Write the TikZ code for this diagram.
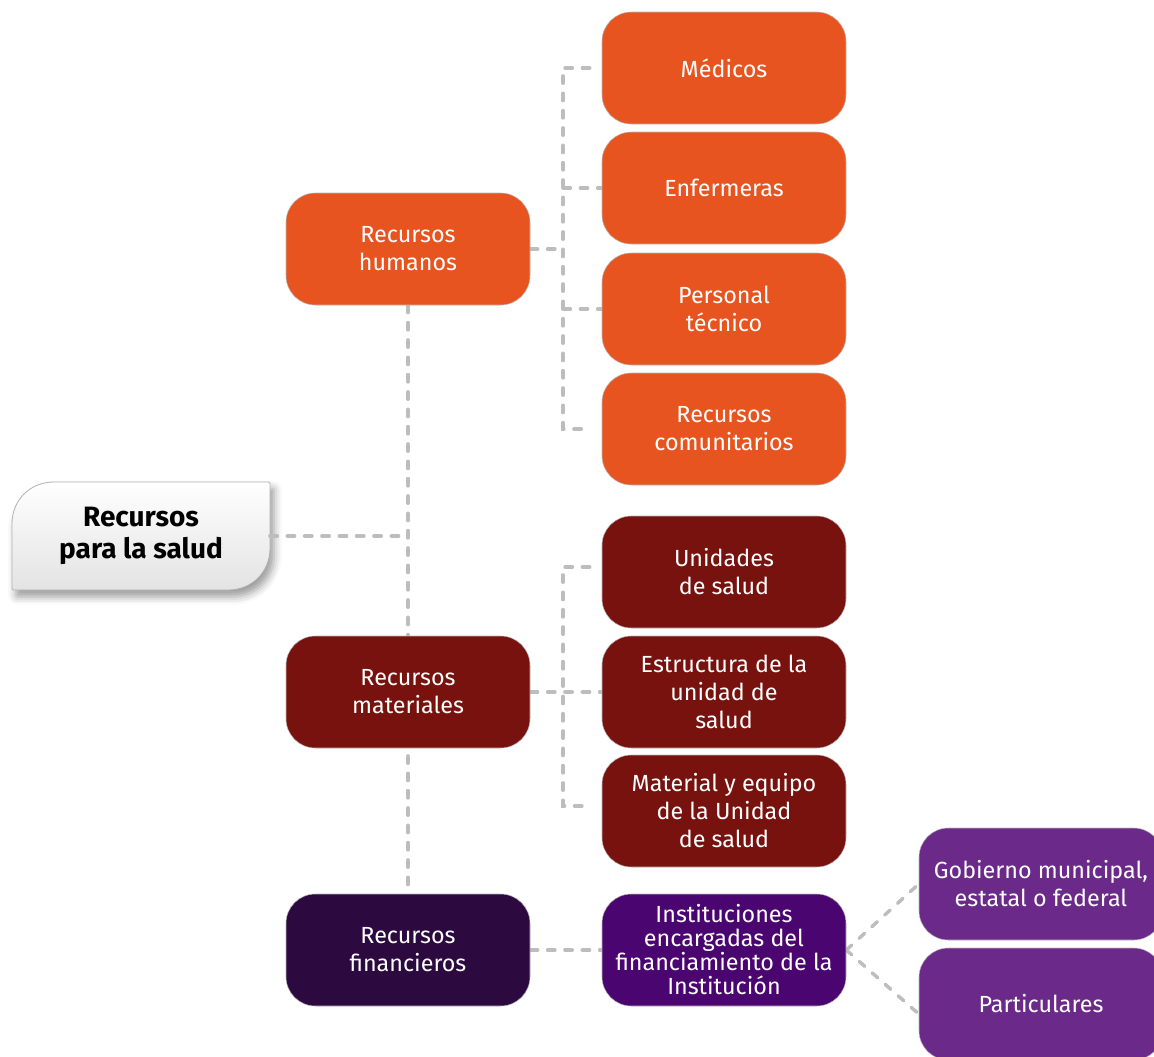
\documentclass[tikz,border=0pt]{standalone}
\usepackage{fontspec}
\setmainfont{Fira Sans}
\usepackage{xcolor}
\usepackage{tikz}
\usetikzlibrary{calc,backgrounds,shadows.blur}

\definecolor{naranja}{HTML}{E8541F}
\definecolor{granate}{HTML}{78120E}
\definecolor{morado}{HTML}{2C0A40}
\definecolor{violeta}{HTML}{4A0570}
\definecolor{lila}{HTML}{6B2A8A}
\definecolor{guion}{HTML}{BDBDBD}

\tikzset{
  caja/.style={rounded corners=22pt, minimum width=183pt, minimum height=84pt,
    align=center, text=white, draw=gray!55, line width=0.4pt,
    font=\fontsize{17.5}{21}\selectfont},
  raiz/.style={minimum width=193pt, minimum height=81pt, align=center,
    font=\fontsize{21}{24}\selectfont\bfseries},
  enlace/.style={draw=guion, line width=2.6pt, dash pattern=on 5.5pt off 7.5pt, line cap=round}
}

\begin{document}
\begin{tikzpicture}[x=0.75pt,y=-0.75pt]
\useasboundingbox (0,0) rectangle (1154,1057);

% nodos
\node[raiz] (raiz) at (141,536) {Recursos\\para la salud};

\node[caja, fill=naranja] (humanos) at (408,249) {Recursos\\humanos};
\node[caja, fill=granate] (materiales) at (408,692) {Recursos\\materiales};
\node[caja, fill=morado] (financieros) at (408,950) {Recursos\\financieros};

\node[caja, fill=naranja] (medicos) at (724,68) {Médicos};
\node[caja, fill=naranja] (enfermeras) at (724,188) {Enfermeras};
\node[caja, fill=naranja] (tecnico) at (724,309) {Personal\\técnico};
\node[caja, fill=naranja] (comunitarios) at (724,429) {Recursos\\comunitarios};

\node[caja, fill=granate] (unidades) at (724,572) {Unidades\\de salud};
\node[caja, fill=granate] (estructura) at (724,692) {Estructura de la\\unidad de\\salud};
\node[caja, fill=granate] (equipo) at (724,811) {Material y equipo\\de la Unidad\\de salud};

\node[caja, fill=violeta, font=\fontsize{17.5}{18}\selectfont] (instituciones) at (724,950)
  {Instituciones\\encargadas del\\financiamiento de la\\Institución};

\node[caja, fill=lila] (gobierno) at (1041,884) {Gobierno municipal,\\estatal o federal};
\node[caja, fill=lila] (particulares) at (1041,1004) {Particulares};

\coordinate (hbus) at (563,249);
\coordinate (mbus) at (563,692);

\begin{scope}[on background layer]
% caja principal
\path[top color=white, bottom color=gray!22, draw=gray!60, line width=0.6pt,
  blur shadow={shadow xshift=3pt, shadow yshift=-5pt, shadow blur radius=6pt}]
  (12,524) .. controls (12,500) and (30,482) .. (54,482) -- (266,482) .. controls (270,482) .. (270,486)
  -- (270,548) .. controls (270,572) and (252,590) .. (228,590) -- (16,590) .. controls (12,590) .. (12,586) -- cycle;

% enlaces
\draw[enlace] (raiz.east) -- (raiz.east -| humanos.south);
\draw[enlace] (humanos.south) -- (financieros.north);

\draw[enlace] (humanos.east) -- (hbus);
\draw[enlace] ($(medicos.west)+(-12,0)$) -| (hbus) |- ($(comunitarios.west)+(-12,0)$);
\draw[enlace] (hbus |- enfermeras.west) -- (enfermeras.west);
\draw[enlace] (hbus |- tecnico.west) -- (tecnico.west);

\draw[enlace] (materiales.east) -- (estructura.west);
\draw[enlace] ($(unidades.west)+(-12,-5)$) -| (mbus) |- ($(equipo.west)+(-12,-5)$);

\draw[enlace] (financieros.east) -- (instituciones.west);
\draw[enlace] (instituciones.east) -- (gobierno.west);
\draw[enlace] (instituciones.east) -- ($(particulares.west)+(0,10)$);
\end{scope}

\end{tikzpicture}
\end{document}
